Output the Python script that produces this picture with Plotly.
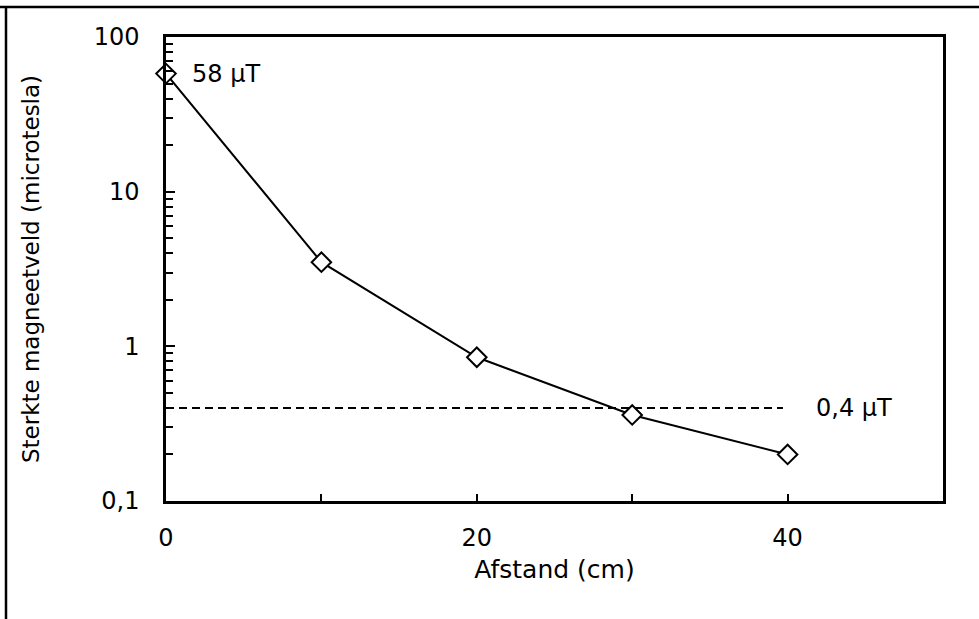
import plotly.graph_objects as go
import numpy as np

# Data
afstand = [0, 10, 20, 30, 40]
sterkte = [58, 3.5, 0.85, 0.36, 0.2]
grens_x = [0, 39.7]
grens_y = [0.4, 0.4]
x_tickvals = [0, 10, 20, 30, 40, 50]
x_ticktext = ["0", "", "20", "", "40", ""]
y_tickvals = [0.1, 1, 10, 100]
y_ticktext = ["0,1", "1", "10", "100"]
label_top = "58 µT"
label_grens = "0,4 µT"

W, H = 979, 619
L, R, T, B = 166, 36, 37, 118
pw, ph = W - L - R, H - T - B

def px2paper_x(px):
    return (px - L) / pw

def px2paper_y(py):
    return 1 - (py - T) / ph

FONT = "DejaVu Sans"
fig = go.Figure()
fig.add_trace(go.Scatter(x=grens_x, y=grens_y, mode="lines",
                         line=dict(color="black", width=2, dash="8px,5px"),
                         showlegend=False, hoverinfo="skip"))
fig.add_trace(go.Scatter(x=afstand, y=sterkte, mode="lines+markers",
                         line=dict(color="black", width=2),
                         marker=dict(symbol="diamond", size=15, color="white",
                                     line=dict(color="black", width=2)),
                         showlegend=False, cliponaxis=False))

fig.add_annotation(x=afstand[0], y=np.log10(sterkte[0]), text=label_top, showarrow=False,
                   xanchor="left", yanchor="middle", xshift=24,
                   font=dict(family=FONT, size=24, color="black"))
fig.add_annotation(x=41.7, y=np.log10(grens_y[0]), text=label_grens, showarrow=False,
                   xanchor="left", yanchor="middle",
                   font=dict(family=FONT, size=24, color="black"))

# outer frame (top and left)
fig.add_shape(type="line", xref="paper", yref="paper",
              x0=px2paper_x(0), x1=px2paper_x(W), y0=px2paper_y(7), y1=px2paper_y(7),
              line=dict(color="black", width=2.5))
fig.add_shape(type="line", xref="paper", yref="paper",
              x0=px2paper_x(6), x1=px2paper_x(6), y0=px2paper_y(7), y1=px2paper_y(H),
              line=dict(color="black", width=2.5))

fig.update_layout(
    width=W, height=H,
    margin=dict(l=L, r=R, t=T, b=B),
    paper_bgcolor="white", plot_bgcolor="white",
    font=dict(family=FONT, size=24, color="black"),
    xaxis=dict(range=[0, 50], tickmode="array", tickvals=x_tickvals, ticktext=x_ticktext,
               ticks="inside", ticklen=7, tickwidth=2, tickcolor="black",
               ticklabelstandoff=13,
               showline=True, linecolor="black", linewidth=2.5, mirror=True,
               showgrid=False, zeroline=False,
               title=dict(text="Afstand (cm)", standoff=10, font=dict(family=FONT, size=25)),
               tickfont=dict(family=FONT, size=24)),
    yaxis=dict(type="log", range=[-1, 2], tickmode="array", tickvals=y_tickvals, ticktext=y_ticktext,
               ticks="inside", ticklen=9, tickwidth=2, tickcolor="black",
               ticklabelstandoff=19,
               minor=dict(ticks="inside", ticklen=7, tickwidth=2, tickcolor="black", dtick="D1", showgrid=False),
               showline=True, linecolor="black", linewidth=2.5, mirror=True,
               showgrid=False, zeroline=False,
               title=dict(text="Sterkte magneetveld (microtesla)", standoff=48, font=dict(family=FONT, size=23)),
               tickfont=dict(family=FONT, size=24)),
)

fig.write_html("out.html")
